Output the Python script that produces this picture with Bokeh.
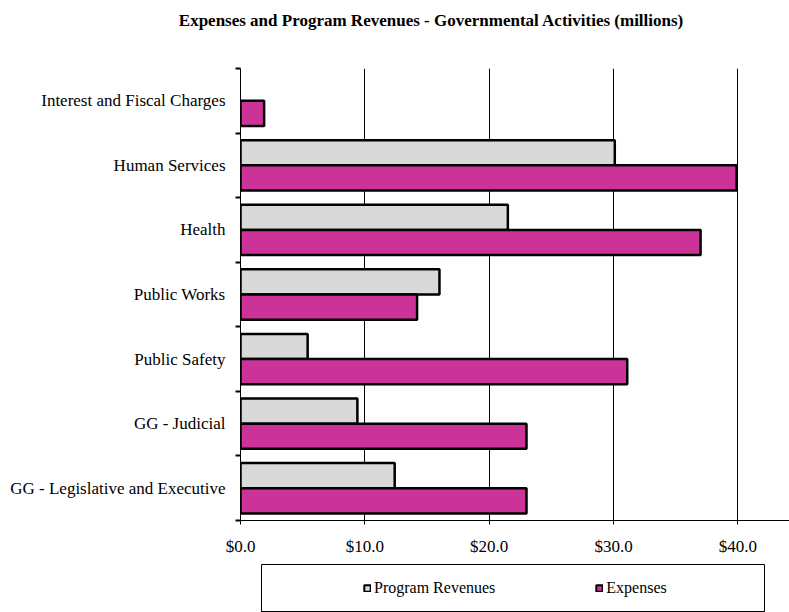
from bokeh.plotting import figure
from bokeh.models import FixedTicker, Label, Legend, LegendItem, ColumnDataSource, Range1d
from bokeh.layouts import column
from bokeh.embed import file_html
from bokeh.resources import INLINE

# ---- data ----
categories = [
    "GG - Legislative and Executive",
    "GG - Judicial",
    "Public Safety",
    "Public Works",
    "Health",
    "Human Services",
    "Interest and Fiscal Charges",
]
program_revenues = [12.4, 9.4, 5.4, 16.0, 21.5, 30.1, 0.0]
expenses = [23.0, 23.0, 31.1, 14.2, 37.0, 39.9, 1.9]
x_ticks = [0, 10, 20, 30, 40]
x_tick_labels = ["$0.0", "$10.0", "$20.0", "$30.0", "$40.0"]
series_names = ["Program Revenues", "Expenses"]
title_text = "Expenses and Program Revenues - Governmental Activities (millions)"

GRAY = "#d9d9d9"
MAGENTA = "#cc3399"
FONT = "Liberation Serif"
BAR_H = 0.39

centers = [i + 0.5 for i in range(len(categories))]

rev_src = ColumnDataSource(dict(
    y=[c + BAR_H / 2 for c, v in zip(centers, program_revenues) if v > 0],
    right=[v for v in program_revenues if v > 0],
))
exp_src = ColumnDataSource(dict(
    y=[c - BAR_H / 2 for c, v in zip(centers, expenses) if v > 0],
    right=[v for v in expenses if v > 0],
))

# ---- title ----
tf = figure(width=789, height=40, x_range=Range1d(0, 789), y_range=Range1d(0, 40),
            x_axis_type=None, y_axis_type=None, min_border=0, toolbar_location=None,
            output_backend="svg", outline_line_color=None, frame_align=False)
tf.add_layout(Label(x=431, y=20, text=title_text, text_font=FONT, text_font_style="bold",
                    text_font_size="17px", text_align="center", text_baseline="middle",
                    text_color="#000000"))

# ---- main chart ----
p = figure(width=789, height=523, x_range=Range1d(0, 44.15), y_range=Range1d(0, len(categories)),
           toolbar_location=None, output_backend="svg", frame_align=False,
           min_border_left=240, min_border_right=0, min_border_top=28, min_border_bottom=43)
p.outline_line_color = None

p.hbar(y="y", left=0, right="right", height=BAR_H, source=rev_src,
       fill_color=GRAY, line_color="#000000", line_width=2.5)
p.hbar(y="y", left=0, right="right", height=BAR_H, source=exp_src,
       fill_color=MAGENTA, line_color="#000000", line_width=2.5)

xa = p.xaxis[0]
xa.ticker = FixedTicker(ticks=x_ticks)
xa.major_label_overrides = {t: l for t, l in zip(x_ticks, x_tick_labels)}
xa.major_tick_out = 4
xa.major_tick_in = 0
xa.minor_tick_out = 0
xa.minor_tick_in = 0
xa.axis_line_color = "#000000"
xa.major_tick_line_color = "#000000"
xa.major_label_text_font = FONT
xa.major_label_text_font_size = "17px"
xa.major_label_text_color = "#000000"
xa.major_label_standoff = 12

ya = p.yaxis[0]
ya.ticker = FixedTicker(ticks=centers, minor_ticks=list(range(len(categories) + 1)))
ya.major_label_overrides = {c: n for c, n in zip(centers, categories)}
ya.major_tick_out = 0
ya.major_tick_in = 0
ya.minor_tick_out = 5
ya.minor_tick_in = 0
ya.minor_tick_line_color = "#000000"
ya.minor_tick_line_width = 2
ya.axis_line_color = "#000000"
ya.major_label_text_font = FONT
ya.major_label_text_font_size = "17px"
ya.major_label_text_color = "#000000"
ya.major_label_standoff = 10

p.xgrid.ticker = FixedTicker(ticks=x_ticks[1:])
p.xgrid.grid_line_color = "#000000"
p.xgrid.grid_line_width = 1
p.ygrid.visible = False

# ---- legend box ----
lf = figure(width=789, height=49, x_range=Range1d(0, 1), y_range=Range1d(0, 1),
            x_axis_type=None, y_axis_type=None, toolbar_location=None, output_backend="svg",
            frame_align=False,
            min_border_left=261, min_border_right=25, min_border_top=1, min_border_bottom=0)
lf.outline_line_color = "#000000"
lf.outline_line_width = 1
# legend swatches (kept outside the visible range of this strip)
r1 = lf.hbar(y=[-5], right=[1], height=0.1, fill_color=GRAY,
             line_color="#000000", line_width=2)
r2 = lf.hbar(y=[-5], right=[1], height=0.1, fill_color=MAGENTA,
             line_color="#000000", line_width=2)
legend = Legend(items=[LegendItem(label=series_names[0], renderers=[r1]),
                       LegendItem(label=series_names[1], renderers=[r2])],
                orientation="horizontal", location=(102, 15),
                glyph_width=8, glyph_height=8, label_standoff=3, spacing=100,
                padding=0, margin=0, border_line_color=None, background_fill_alpha=0,
                label_text_font=FONT, label_text_font_size="16px", label_text_color="#000000")
lf.add_layout(legend, "center")

layout = column(tf, p, lf, spacing=0)
open("out.html", "w").write(file_html(layout, INLINE))
